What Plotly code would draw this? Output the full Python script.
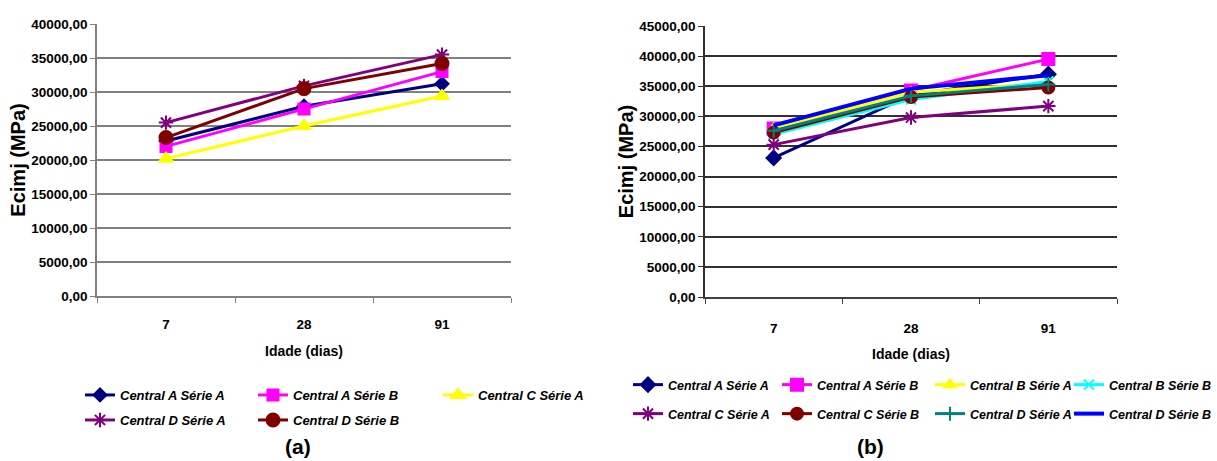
import plotly.graph_objects as go

# Ages (days) on the category axis
idade = ["7", "28", "91"]

# Panel (a): Ecimj (MPa) per concrete plant / series
a_names = ["Central A Série A", "Central A Série B", "Central C Série A",
           "Central D Série A", "Central D Série B"]
a_central_a_serie_a = [22800, 27900, 31200]
a_central_a_serie_b = [22000, 27500, 33000]
a_central_c_serie_a = [20200, 25000, 29400]
a_central_d_serie_a = [25500, 30900, 35500]
a_central_d_serie_b = [23300, 30500, 34200]

# Panel (b)
b_names = ["Central A Série A", "Central A Série B", "Central B Série A", "Central B Série B",
           "Central C Série A", "Central C Série B", "Central D Série A", "Central D Série B"]
b_central_a_serie_a = [23100, 33500, 37000]
b_central_a_serie_b = [28000, 34300, 39500]
b_central_b_serie_a = [28000, 34000, 35500]
b_central_b_serie_b = [27000, 32800, 35800]
b_central_c_serie_a = [25300, 29800, 31700]
b_central_c_serie_b = [27300, 33200, 34800]
b_central_d_serie_a = [27600, 33400, 35300]
b_central_d_serie_b = [28500, 34600, 36800]

FONT = "Liberation Sans, Arial, sans-serif"
W, H = 1217, 461


def px_x(p):
    return p / W


def px_y(p):
    return 1 - p / H


a_series = [a_central_a_serie_a, a_central_a_serie_b, a_central_c_serie_a,
            a_central_d_serie_a, a_central_d_serie_b]
a_style = [
    ("#000080", "diamond", 10),
    ("#FF00FF", "square", 11),
    ("#FFFF00", "triangle-up", 12),
    ("#800080", "asterisk-open", 12),
    ("#800000", "circle", 13),
]
# legend slot (column left edge, row centre) for each entry, in pixels
a_slots = [(80, 395), (253, 395), (438, 395), (80, 420), (253, 420)]

b_series = [b_central_a_serie_a, b_central_a_serie_b, b_central_b_serie_a, b_central_b_serie_b,
            b_central_c_serie_a, b_central_c_serie_b, b_central_d_serie_a, b_central_d_serie_b]
b_style = [
    ("#000080", "diamond", 11),
    ("#FF00FF", "square", 12),
    ("#FFFF00", "triangle-up", 10),
    ("#00FFFF", "x-thin-open", 10),
    ("#800080", "asterisk-open", 12),
    ("#800000", "circle", 12),
    ("#008080", "cross-thin-open", 10),
    ("#0000FF", None, 0),
]
b_cols = [628, 777, 930, None]
b_rows = [385, 414]
b_slots = [(b_cols[i % 4], b_rows[i // 4]) for i in range(8)]

fig = go.Figure()
legends = {}

legfont_a = dict(family=FONT, size=13, color="black", weight="bold", style="italic")
legfont_b = dict(family=FONT, size=12.5, color="black", weight="bold", style="italic")


def make_legend(slot, font):
    x, y = slot
    common = dict(orientation="h", y=px_y(y), yanchor="middle", visible=True,
                  font=font, bgcolor="rgba(0,0,0,0)", borderwidth=0)
    if x is None:
        return dict(x=1, xanchor="right", **common)
    return dict(x=px_x(x), xanchor="left", **common)


k = 0
for name, ys, (col, sym, size), slot in zip(a_names, a_series, a_style, a_slots):
    k += 1
    lg = "legend" if k == 1 else f"legend{k}"
    legends[lg] = make_legend(slot, legfont_a)
    fig.add_trace(go.Scatter(
        x=idade, y=ys, name=name, xaxis="x", yaxis="y", legend=lg, showlegend=True,
        mode="lines+markers",
        line=dict(color=col, width=3),
        marker=dict(symbol=sym, size=size, color=col, line=dict(color=col, width=2)),
    ))

for name, ys, (col, sym, size), slot in zip(b_names, b_series, b_style, b_slots):
    k += 1
    lg = f"legend{k}"
    legends[lg] = make_legend(slot, legfont_b)
    if sym is None:
        fig.add_trace(go.Scatter(
            x=idade, y=ys, name=name, xaxis="x2", yaxis="y2", legend=lg, showlegend=True,
            mode="lines", line=dict(color=col, width=4),
        ))
    else:
        fig.add_trace(go.Scatter(
            x=idade, y=ys, name=name, xaxis="x2", yaxis="y2", legend=lg, showlegend=True,
            mode="lines+markers",
            line=dict(color=col, width=3),
            marker=dict(symbol=sym, size=size, color=col, line=dict(color=col, width=2)),
        ))

tickfont = dict(family=FONT, size=13.5, color="black", weight="bold")
titlefont_x = dict(family=FONT, size=14, color="black", weight="bold")
titlefont_y = dict(family=FONT, size=20, color="black", weight="bold")


def xaxis(domain, anchor, linecol, lab_standoff, title_standoff):
    return dict(
        domain=domain, anchor=anchor, type="category", automargin=False,
        categoryorder="array", categoryarray=idade,
        range=[-0.5, 2.5], tickson="boundaries",
        ticks="outside", ticklen=5, tickcolor=linecol, tickwidth=1,
        ticklabelstandoff=lab_standoff,
        showline=True, linecolor=linecol, linewidth=2,
        showgrid=False, zeroline=False,
        tickfont=tickfont,
        title=dict(text="Idade (dias)", font=titlefont_x, standoff=title_standoff),
    )


def yaxis(domain, anchor, rng, gridcol, gridw, linecol, title_standoff):
    return dict(
        domain=domain, anchor=anchor, range=rng, dtick=5000, automargin=False,
        tickformat=".2f", ticks="outside", ticklen=5, tickcolor=linecol,
        showline=True, linecolor=linecol, linewidth=1.5,
        showgrid=True, gridcolor=gridcol, gridwidth=gridw, zeroline=False,
        tickfont=tickfont,
        title=dict(text="Ecimj (MPa)", font=titlefont_y, standoff=title_standoff),
    )


fig.update_layout(
    width=W, height=H,
    margin=dict(l=0, r=0, t=0, b=0),
    paper_bgcolor="white", plot_bgcolor="white",
    separators=",.",
    showlegend=True,
    xaxis=xaxis([px_x(97), px_x(511)], "y", "#808080", 15, 15),
    yaxis=yaxis([px_y(296), px_y(24)], "x", [0, 40000], "#808080", 2, "#808080", 0),
    xaxis2=xaxis([px_x(705), px_x(1117)], "y2", "#404040", 18, 14),
    yaxis2=yaxis([px_y(297), px_y(26)], "x2", [0, 45000], "#303030", 1.5, "#303030", 0),
    annotations=[
        dict(text="(a)", x=px_x(298), y=px_y(446), xref="paper", yref="paper",
             xanchor="center", yanchor="middle", showarrow=False,
             font=dict(family=FONT, size=21, color="black", weight="bold")),
        dict(text="(b)", x=px_x(870), y=px_y(446), xref="paper", yref="paper",
             xanchor="center", yanchor="middle", showarrow=False,
             font=dict(family=FONT, size=21, color="black", weight="bold")),
    ],
    **legends,
)

fig.write_html("out.html")
